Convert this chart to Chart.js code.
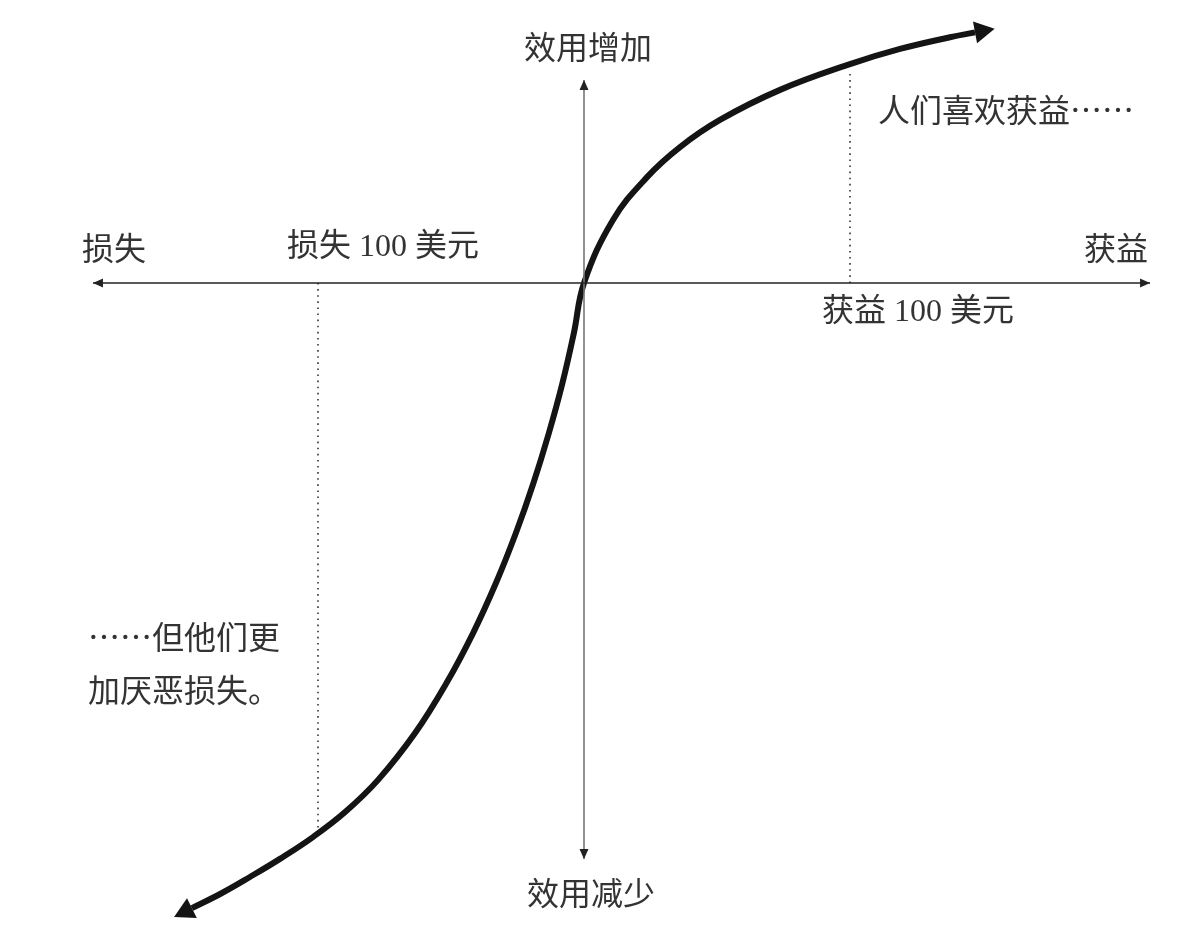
<!DOCTYPE html>
<html>
<head>
<meta charset="utf-8">
<script src="https://cdn.jsdelivr.net/npm/chart.js@4/dist/chart.umd.min.js"></script>
<style>
  html, body { margin: 0; padding: 0; background: #ffffff; }
  #wrap { width: 1200px; height: 946px; }
</style>
</head>
<body>
<div id="wrap"><canvas id="c" width="1200" height="946"></canvas></div>
<script>
// ---- Data (gain/loss in dollars, utility in arbitrary units) ----
const gainLoss = [-147.4, -136.8, -125.6, -114.3, -101.9, -89.8, -77.4, -63.5, -51.7, -41.7, -33.1, -25.6, -19.0, -13.2, -8.1, -3.8, 0,
                  10.9, 23.7, 36.1, 51.1, 73.7, 100, 118.8, 137.6, 147.0];
const utility  = [-235.0, -229.7, -223.3, -216.5, -208.3, -198.9, -186.8, -169.2, -150.4, -131.6, -112.8, -94.0, -75.2, -56.4, -37.6, -18.8, 0,
                  23.7, 39.8, 51.1, 61.3, 72.6, 82.3, 88.0, 92.4, 94.2];
const axisXExtent = [-184.6, 212.8];   // horizontal axis (gain/loss) ends
const axisYExtent = [76.3, -216.5];    // vertical axis (utility) ends
const markerX = [-100, 100];           // 损失 100 美元 / 获益 100 美元
const markerUtility = [-205.6, 80.1];  // where the dotted lines meet the curve
const labelTexts = ['效用增加', '人们喜欢获益……', '损失', '损失 100 美元', '获益', '获益 100 美元', '……但他们更', '加厌恶损失。', '效用减少'];

// label anchors (data coordinates) and alignment
const labelAnchors = [
  {x: 1.5,    y: 88.7,   align: 'center'},
  {x: 110.5,  y: 65.0,   align: 'left'},
  {x: -188.7, y: 13.2,   align: 'left'},
  {x: -111.7, y: 13.2,   align: 'left'},
  {x: 212.0,  y: 13.2,   align: 'right'},
  {x: 89.5,   y: -11.3,  align: 'left'},
  {x: -186.5, y: -133.1, align: 'left'},
  {x: -186.5, y: -153.0, align: 'left'},
  {x: 2.6,    y: -229.3, align: 'center'}
];

const curveData = gainLoss.map((x, i) => ({x, y: utility[i]}));

const arrowPlugin = {
  id: 'arrows',
  afterDatasetsDraw(chart) {
    const ctx = chart.ctx;
    chart.data.datasets.forEach((ds, di) => {
      if (!ds.arrows) return;
      const pts = chart.getDatasetMeta(di).data;
      const n = pts.length;
      const draw = (tip, from, len, half, color) => {
        let dx = tip.x - from.x, dy = tip.y - from.y;
        const d = Math.hypot(dx, dy) || 1;
        dx /= d; dy /= d;
        const bx = tip.x + dx * (ds.arrowOffset ? len : 0);
        const by = tip.y + dy * (ds.arrowOffset ? len : 0);
        const baseX = bx - dx * len, baseY = by - dy * len;
        ctx.save();
        ctx.fillStyle = color;
        ctx.beginPath();
        ctx.moveTo(bx, by);
        ctx.lineTo(baseX - dy * half, baseY + dx * half);
        ctx.lineTo(baseX + dy * half, baseY - dx * half);
        ctx.closePath();
        ctx.fill();
        ctx.restore();
      };
      const len = ds.arrowLen, half = ds.arrowHalf, col = ds.arrowColor;
      const first = pts[0], last = pts[n - 1];
      let fromStart = pts[1], fromEnd = pts[n - 2];
      if (first.cp2x !== undefined && Math.hypot(first.cp2x - first.x, first.cp2y - first.y) > 0.5) fromStart = {x: first.cp2x, y: first.cp2y};
      if (last.cp1x !== undefined && Math.hypot(last.cp1x - last.x, last.cp1y - last.y) > 0.5) fromEnd = {x: last.cp1x, y: last.cp1y};
      draw(first, fromStart, len, half, col);
      draw(last, fromEnd, len, half, col);
    });
  },
  afterDraw(chart) {
    const ctx = chart.ctx;
    const xs = chart.scales.x, ys = chart.scales.y;
    ctx.save();
    ctx.fillStyle = '#333333';
    ctx.textBaseline = 'middle';
    labelTexts.forEach((t, i) => {
      const a = labelAnchors[i];
      ctx.font = /\d/.test(t)
        ? '32px "Liberation Serif", "Noto Sans CJK SC", sans-serif'
        : '32px "Noto Sans CJK SC", sans-serif';
      ctx.textAlign = a.align;
      ctx.fillText(t, xs.getPixelForValue(a.x), ys.getPixelForValue(a.y));
    });
    ctx.restore();
  }
};

new Chart(document.getElementById('c'), {
  type: 'scatter',
  data: {
    datasets: [
      {
        label: '横轴',
        data: axisXExtent.map(x => ({x, y: 0})),
        showLine: true, borderColor: '#222222', borderWidth: 1.4, pointRadius: 0,
        arrows: true, arrowLen: 10, arrowHalf: 4.5, arrowColor: '#222222'
      },
      {
        label: '纵轴',
        data: axisYExtent.map(y => ({x: 0, y})),
        showLine: true, borderColor: '#777777', borderWidth: 1.6, pointRadius: 0,
        arrows: true, arrowLen: 10, arrowHalf: 4.5, arrowColor: '#222222'
      },
      {
        label: '损失 100 美元',
        data: [{x: markerX[0], y: 0}, {x: markerX[0], y: markerUtility[0]}],
        showLine: true, borderColor: '#333333', borderWidth: 1.6, borderDash: [1.6, 4.5], pointRadius: 0
      },
      {
        label: '获益 100 美元',
        data: [{x: markerX[1], y: 0}, {x: markerX[1], y: markerUtility[1]}],
        showLine: true, borderColor: '#333333', borderWidth: 1.6, borderDash: [1.6, 4.5], pointRadius: 0
      },
      {
        label: '价值函数',
        data: curveData,
        showLine: true, borderColor: '#141414', borderWidth: 6, pointRadius: 0,
        tension: 0.4, borderCapStyle: 'butt',
        arrows: true, arrowOffset: true, arrowLen: 20, arrowHalf: 11, arrowColor: '#141414'
      }
    ]
  },
  options: {
    responsive: false,
    devicePixelRatio: 1,
    animation: false,
    layout: { padding: 0 },
    plugins: { legend: { display: false }, tooltip: { enabled: false }, title: { display: false } },
    scales: {
      x: { type: 'linear', min: -219.55, max: 231.58, display: false },
      y: { type: 'linear', min: -249.25, max: 106.39, display: false }
    }
  },
  plugins: [arrowPlugin]
});
</script>
</body>
</html>
